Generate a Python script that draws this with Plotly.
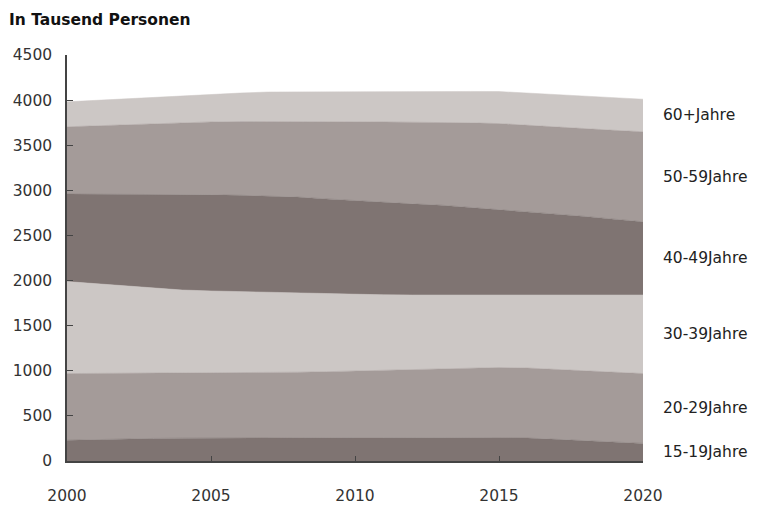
import plotly.graph_objects as go

years = list(range(2000, 2021))

labels = ["15-19Jahre", "20-29Jahre", "30-39Jahre", "40-49Jahre", "50-59Jahre", "60+Jahre"]

age_15_19 = [230, 238, 245, 250, 253, 255, 257, 258, 258, 258, 258, 258, 258, 258, 258, 257, 254, 240, 225, 210, 195]
age_20_29 = [739, 732, 726, 722, 720, 720, 720, 722, 726, 732, 740, 748, 755, 762, 770, 779, 776, 775, 775, 775, 774]
age_30_39 = [1020, 995, 969, 943, 922, 910, 901, 890, 876, 862, 847, 836, 827, 820, 812, 804, 810, 825, 840, 855, 871]
age_40_49 = [969, 993, 1017, 1040, 1058, 1065, 1067, 1065, 1065, 1053, 1040, 1023, 1010, 995, 970, 945, 920, 900, 870, 840, 811]
age_50_59 = [746, 757, 770, 785, 797, 808, 817, 828, 837, 855, 875, 893, 906, 919, 938, 955, 960, 960, 970, 985, 998]
age_60_plus = [277, 283, 288, 292, 298, 305, 316, 327, 330, 333, 334, 337, 340, 342, 348, 355, 360, 362, 365, 362, 361]

series = [age_15_19, age_20_29, age_30_39, age_40_49, age_50_59, age_60_plus]

y_ticks = [0, 500, 1000, 1500, 2000, 2500, 3000, 3500, 4000, 4500]
x_ticks = [2000, 2005, 2010, 2015, 2020]

DARK = "rgb(127,116,114)"
MID = "rgb(164,155,153)"
LIGHT = "rgb(204,199,197)"
colors = [DARK, MID, LIGHT, DARK, MID, LIGHT]

FONT = "DejaVu Sans"

fig = go.Figure()
for name, vals, col in zip(labels, series, colors):
    fig.add_trace(go.Scatter(
        x=years, y=vals, name=name, mode="lines",
        stackgroup="one", line=dict(width=0.5, color=col),
        fillcolor=col, hoverinfo="skip", showlegend=False,
    ))

# right-side labels at the middle of each band in the last year
cum = 0
for name, vals in zip(labels, series):
    mid = cum + vals[-1] / 2
    cum += vals[-1]
    fig.add_annotation(
        x=1, xref="paper", y=mid, yref="y", text=name, showarrow=False,
        xanchor="left", yanchor="middle", xshift=18,
        font=dict(family=FONT, size=15.5, color="#222"),
    )

fig.update_layout(
    width=760, height=526,
    margin=dict(l=67, r=117, t=55, b=65),
    paper_bgcolor="white", plot_bgcolor="white",
    title=dict(text="In Tausend Personen", xref="container", x=9 / 760,
               yref="container", y=1 - 20 / 526, xanchor="left", yanchor="middle",
               font=dict(family=FONT, size=15.5, color="#111", weight="bold")),
    font=dict(family=FONT, size=15.5, color="#333"),
)
fig.update_xaxes(
    range=[2000, 2020], tickvals=x_ticks, ticktext=[str(v) for v in x_ticks],
    showgrid=False, zeroline=False, showline=True, linecolor="#444", linewidth=1.5,
    ticks="inside", ticklen=5, tickcolor="#444", ticklabelstandoff=20,
)
fig.update_yaxes(
    range=[0, 4500], tickvals=y_ticks, ticktext=[str(v) for v in y_ticks],
    showgrid=False, zeroline=False, showline=True, linecolor="#444", linewidth=1.5,
    ticks="inside", ticklen=6, tickcolor="#444", ticklabelstandoff=10,
)

fig.write_html("out.html")
